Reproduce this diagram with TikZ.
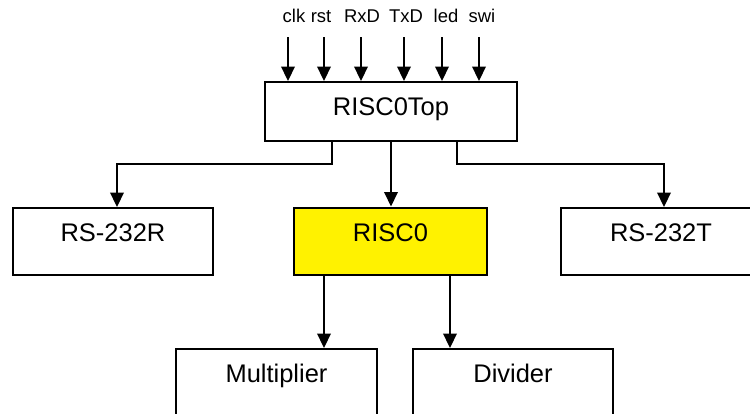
\documentclass[tikz,border=0pt]{standalone}
\usepackage{fontspec}
\setmainfont{Liberation Sans}
\usetikzlibrary{arrows.meta}
\tikzset{
  block/.style={draw=black, line width=1.1pt, fill=white, minimum width=4.0cm, minimum height=1.34cm, inner sep=0pt, text height=0.35cm, text depth=0.35cm, font=\fontsize{14.5}{16}\selectfont},
  topblock/.style={block, minimum width=5.04cm, minimum height=1.18cm, text height=0.4cm, text depth=0.22cm},
  coreblock/.style={block, fill=yellow, line width=1.7pt, minimum width=3.86cm},
  port/.style={inner sep=0pt, text depth=0pt, font=\fontsize{10.5}{12}\selectfont},
  wire/.style={line width=1.15pt, -{Triangle[length=0.29cm, width=0.27cm]}},
}

\begin{document}
\begin{tikzpicture}
\useasboundingbox (0,0) rectangle (15.0,8.280);
\clip (0,0) rectangle (15.0,8.280);
\node[topblock] (top) at (7.820,6.050) {RISC0Top};
\node[block] (rxr) at (2.260,3.450) {RS-232R};
\node[coreblock] (core) at (7.810,3.450) {RISC0};
\node[block] (txr) at (13.220,3.450) {RS-232T};
\node[block, minimum width=4.02cm] (mul) at (5.530,0.630) {Multiplier};
\node[block] (div) at (10.260,0.630) {Divider};
\foreach \name/\lx/\ax in {clk/5.880/5.760, rst/6.420/6.480, RxD/7.240/7.220, TxD/8.120/8.080, led/8.920/8.840, swi/9.640/9.580} {
  \node[port, anchor=base] (\name) at (\lx,7.820) {\name};
  \draw[wire, shorten <=0.28cm] (\name.south -| \ax,0) -- (top.north -| \ax,0);
}
\coordinate (rxbend) at (2.340,5.000);
\coordinate (txbend) at (13.280,5.000);
\draw[wire] (top.south -| 6.640,0) |- (rxbend) -- (rxr.north -| rxbend);
\draw[wire] (top.south -| 7.820,0) -- (core.north -| 7.820,0);
\draw[wire] (top.south -| 9.140,0) |- (txbend) -- (txr.north -| txbend);
\draw[wire] (core.south -| 6.480,0) -- (mul.north -| 6.480,0);
\draw[wire] (core.south -| 9.000,0) -- (div.north -| 9.000,0);
\end{tikzpicture}
\end{document}
